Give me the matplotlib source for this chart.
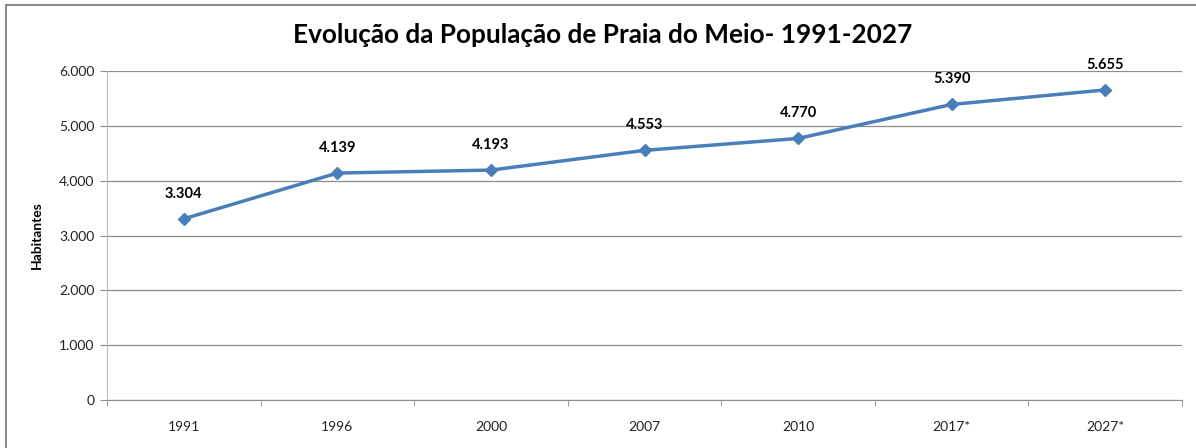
import matplotlib
matplotlib.use("Agg")
import matplotlib.pyplot as plt
from matplotlib.patches import Rectangle

categories = ["1991", "1996", "2000", "2007", "2010", "2017*", "2027*"]
population = [3304, 4139, 4193, 4553, 4770, 5390, 5655]
yticks = [0, 1000, 2000, 3000, 4000, 5000, 6000]
title = "Evolução da População de Praia do Meio- 1991-2027"

plt.rcParams['font.family'] = ['Lato', 'DejaVu Sans']

W, H = 1196, 448
fig = plt.figure(figsize=(W / 100, H / 100), dpi=100)
fig.patch.set_facecolor("white")

# outer chart border (top and left visible)
fig.patches.append(Rectangle((6 / W, -0.1), 1.2, (H - 5) / H + 0.1,
                             transform=fig.transFigure, fill=False,
                             edgecolor="#8c8c8c", linewidth=1.5, clip_on=False))

left, right = 107, 1182
top, bottom = 71, 400
ax = fig.add_axes([left / W, 1 - bottom / H, (right - left) / W, (bottom - top) / H])

x = list(range(len(categories)))
ax.plot(x, population, color="#4A7EBB", linewidth=2.5, marker="D",
        markersize=6.5, markerfacecolor="#4A7EBB", markeredgecolor="#4A7EBB",
        zorder=3)

def fmt(v):
    return f"{v:,}".replace(",", ".")

for xi, v in zip(x, population):
    ax.annotate(fmt(v), (xi, v), xytext=(0, 13), textcoords="offset points",
                ha="center", va="bottom", fontsize=10.5, fontweight="bold",
                color="black")

ax.set_xlim(-0.5, len(categories) - 0.5)
ax.set_ylim(0, 6000)
ax.set_yticks(yticks)
ax.set_yticklabels([fmt(v) for v in yticks], fontsize=10, color="#222222")
ax.set_xticks(x)
ax.set_xticklabels(categories, fontsize=10, color="#222222")
ax.set_xticks([i - 0.5 for i in range(len(categories) + 1)], minor=True)
ax.tick_params(axis="x", which="major", length=0, pad=15)
ax.tick_params(axis="x", which="minor", length=4, color="#8c8c8c", direction="out")
ax.tick_params(axis="y", length=5, color="#8c8c8c", direction="out", pad=4)

ax.grid(axis="y", color="#8c8c8c", linewidth=0.9)
ax.set_axisbelow(True)
for s in ["top", "right"]:
    ax.spines[s].set_visible(False)
ax.spines["left"].set_color("#bcbcbc")
ax.spines["bottom"].set_color("#8c8c8c")

ax.set_ylabel("Habitantes", fontsize=10, fontweight="bold", labelpad=12)

fig.text(603 / W, 1 - 35 / H, title, ha="center", va="center",
         fontsize=18.8, fontweight="bold")

fig.savefig("out.png", dpi=100)
